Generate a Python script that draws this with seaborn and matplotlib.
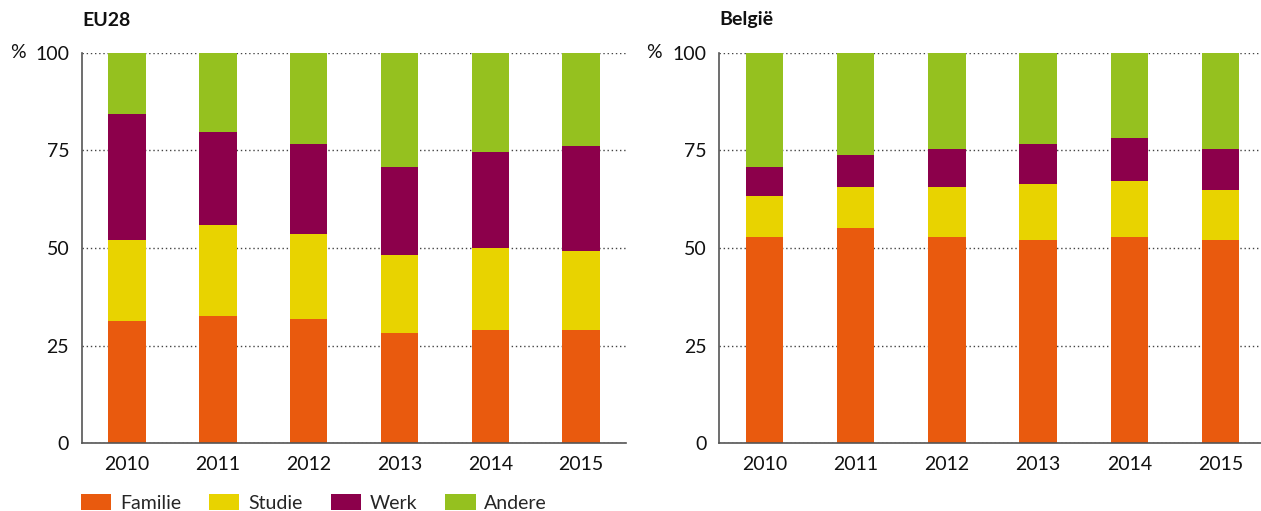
import matplotlib
matplotlib.use("Agg")
import matplotlib.pyplot as plt
from matplotlib.patches import Patch
import seaborn as sns
import pandas as pd
import numpy as np

years = ["2010", "2011", "2012", "2013", "2014", "2015"]
categories = ["Familie", "Studie", "Werk", "Andere"]

eu_familie = [31.2, 32.7, 31.9, 28.2, 28.9, 28.9]
eu_studie = [20.9, 23.1, 21.7, 20.1, 21.0, 20.3]
eu_werk = [32.2, 23.9, 23.1, 22.5, 24.6, 26.8]
eu_andere = [15.7, 20.3, 23.3, 29.2, 25.5, 24.0]

be_familie = [52.9, 55.1, 52.9, 52.1, 52.9, 52.1]
be_studie = [10.5, 10.5, 12.7, 14.2, 14.2, 12.7]
be_werk = [7.4, 8.2, 9.7, 10.4, 11.1, 10.5]
be_andere = [29.2, 26.2, 24.7, 23.3, 21.8, 24.7]

colors = {"Familie": "#E95A0E", "Studie": "#E8D300", "Werk": "#8C004B", "Andere": "#95C11F"}

sns.set_theme(style="white")
plt.rcParams["font.family"] = ["Lato", "DejaVu Sans"]

W, H = 1261, 511
fig = plt.figure(figsize=(W / 100, H / 100), dpi=100)

def fx(px):
    return px / W

def fy(py):
    return 1 - py / H

ax_bottom = fy(443.3)
ax_height = fy(52.7) - ax_bottom
axL = fig.add_axes([fx(81.7), ax_bottom, fx(626.5 - 81.7), ax_height])
axR = fig.add_axes([fx(719), ax_bottom, fx(1266 - 719), ax_height])

panels = [
    (axL, "EU28", [eu_familie, eu_studie, eu_werk, eu_andere], 10),
    (axR, "België", [be_familie, be_studie, be_werk, be_andere], 646),
]

for ax, title, series, pct_x in panels:
    df = pd.DataFrame({c: v for c, v in zip(categories, series)})
    df["year"] = years
    cum = df[categories].cumsum(axis=1)
    # draw from top segment down so each lower cumulative bar covers the previous
    for c in reversed(categories):
        d = pd.DataFrame({"year": years, "val": cum[c].values})
        sns.barplot(data=d, x="year", y="val", order=years, color=colors[c],
                    width=0.41, saturation=1, ax=ax, edgecolor="none", linewidth=0)
    ax.set_xlim(-0.5, 5.5)
    ax.set_ylim(0, 100)
    ax.set_yticks([0, 25, 50, 75, 100])
    ax.set_xlabel("")
    ax.set_ylabel("")
    ax.set_axisbelow(True)
    ax.yaxis.grid(True, linestyle=(0, (1, 2)), color="#444444", linewidth=1.0)
    ax.xaxis.grid(False)
    for s in ["top", "right"]:
        ax.spines[s].set_visible(False)
    for s in ["left", "bottom"]:
        ax.spines[s].set_visible(True)
        ax.spines[s].set_color("#555555")
        ax.spines[s].set_linewidth(1.2)
    ax.tick_params(axis="y", length=0, pad=9, labelsize=14, labelcolor="#111111")
    ax.tick_params(axis="x", which="major", length=0, pad=9, labelsize=14, labelcolor="#111111")
    ax.set_xticks(np.arange(0.5, 6.0, 1.0), minor=True)
    ax.tick_params(axis="x", which="minor", direction="in", length=6, width=1.2, color="#555555")
    fig.text(fx(pct_x), fy(53), "%", ha="left", va="center", fontsize=14, color="#111111")
    fig.text(ax.get_position().x0 + fx(0.5), fy(20), title, ha="left", va="center",
             fontsize=14, fontweight="bold", color="#111111")

handles = [Patch(facecolor=colors[c], edgecolor="none") for c in categories]
fig.legend(handles, categories, loc="center left", bbox_to_anchor=(fx(81), fy(503)),
           ncol=4, frameon=False, fontsize=14, handlelength=1.55, handleheight=0.9,
           columnspacing=1.45, handletextpad=0.45, borderaxespad=0, borderpad=0)

fig.savefig("out.png", dpi=100)
